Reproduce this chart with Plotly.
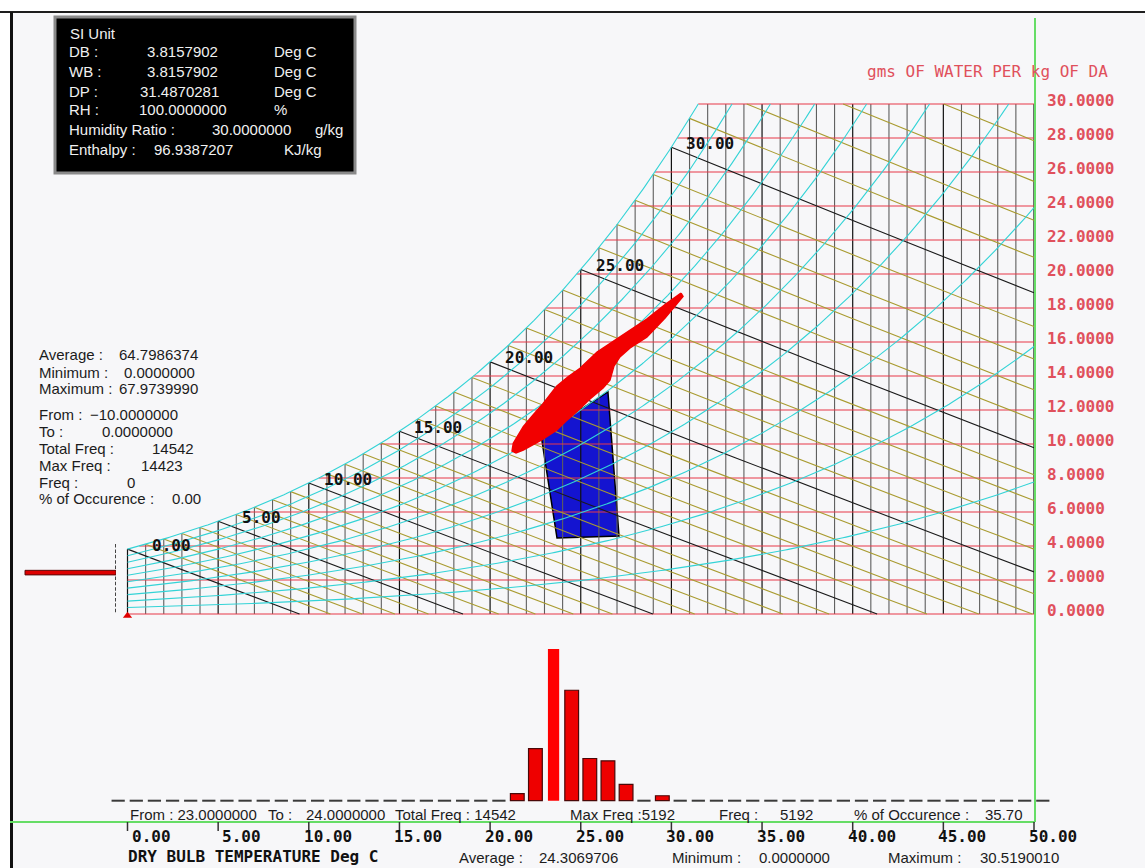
import numpy as np
import plotly.graph_objects as go

# ---------------- chart values ----------------
PRESSURE_KPA = 100.2
DB_LINES = list(range(0, 51))                 # dry-bulb grid, deg C
W_LINES = list(range(0, 31, 2))               # humidity-ratio grid, g/kg
RH_CURVES = [0.1, 0.2, 0.3, 0.4, 0.5, 0.6, 0.7, 0.8, 0.9]
WB_LINES = list(range(0, 35))                 # wet-bulb lines, deg C
WB_LABELS = [0, 5, 10, 15, 20, 25, 30]
DB_TICKS = [0, 5, 10, 15, 20, 25, 30, 35, 40, 45, 50]
W_TICKS = [30, 28, 26, 24, 22, 20, 18, 16, 14, 12, 10, 8, 6, 4, 2, 0]

HIST_BINS = list(range(-1, 51))               # 1 deg C bins (bin start)
HIST_COUNTS = {21: 245, 22: 1785, 23: 5192, 24: 3780, 25: 1445, 26: 1365, 27: 560, 29: 170}
HIST_SELECTED = 23

ENTH_BINS = [-10, 0, 10, 20, 30, 40, 50, 60, 70, 80, 90, 100, 110]
ENTH_COUNTS = {60: 14423}

COMFORT_DB = [22.81, 26.50, 27.11, 23.69]
COMFORT_W = [10.53, 13.06, 4.59, 4.47]

BLOB_DB = [30.53, 29.65, 28.64, 27.72, 26.80, 25.90, 24.96, 24.30, 23.67, 22.93, 22.37, 21.83, 21.28, 21.21,
           21.43, 21.83, 22.85, 23.67, 24.19, 24.78, 25.51, 26.23, 26.61, 26.83, 27.16, 27.72, 28.64, 29.65, 30.64]
BLOB_W = [18.88, 18.20, 17.35, 16.70, 16.05, 15.41, 14.45, 13.95, 13.40, 12.39, 11.71, 11.02, 10.04, 9.59,
          9.47, 9.65, 10.24, 10.82, 11.35, 11.90, 12.65, 13.29, 13.76, 14.59, 15.12, 15.65, 16.29, 17.41, 18.68]

INFO_ROWS = [("DB :", "3.8157902", "Deg C"), ("WB :", "3.8157902", "Deg C"),
             ("DP :", "31.4870281", "Deg C"), ("RH :", "100.0000000", "%"),
             ("Humidity Ratio :", "30.0000000", "g/kg"), ("Enthalpy :", "96.9387207", "KJ/kg")]
LEFT_STATS = [("Average :", "64.7986374"), ("Minimum :", "0.0000000"), ("Maximum :", "67.9739990"),
              ("From :", "\u221210.0000000"), ("To :", "0.0000000"), ("Total Freq :", "14542"),
              ("Max Freq :", "14423"), ("Freq :", "0"), ("% of Occurence :", "0.00")]

# ---------------- geometry (layout only) ----------------
WPX, HPX = 1145, 868
X_PX0, X_PXS = 127.5, 18.13
Y_PX0, Y_PXS = 614.0, 17.0
F_PX0, F_PXS = 800.7, 151.7 / 5192
BG = "#f7f7f9"

def pxx(x):
    return x / WPX

def pxy(y):
    return 1 - y / HPX

# ---------------- psychrometrics ----------------
def es(t):
    return 0.61094 * np.exp(17.625 * t / (t + 243.04))

def es_inv(p):
    a = np.log(p / 0.61094)
    return 243.04 * a / (17.625 - a)

def w_of(t, rh=1.0):
    pw = rh * es(t)
    return 622.0 * pw / (PRESSURE_KPA - pw)

def t_of_w(w, rh=1.0):
    pw = w * PRESSURE_KPA / (622.0 + w)
    return es_inv(pw / rh)

WMAX = max(W_LINES)
TMAX = max(DB_LINES)

def seg_trace(xs, ys, color, width=1, xaxis="x", yaxis="y", dash=None):
    return go.Scatter(x=xs, y=ys, mode="lines", line=dict(color=color, width=width, dash=dash),
                      hoverinfo="skip", showlegend=False, xaxis=xaxis, yaxis=yaxis)

fig = go.Figure()

# comfort polygon (under grid)
fig.add_trace(go.Scatter(x=COMFORT_DB + [COMFORT_DB[0]], y=COMFORT_W + [COMFORT_W[0]],
                         fill="toself", fillcolor="#1414d0", mode="lines",
                         line=dict(color="#000000", width=1.5), hoverinfo="skip", showlegend=False))

# vertical dry-bulb lines
gx, gy, bx, by = [], [], [], []
for t in DB_LINES:
    top = min(w_of(t), WMAX)
    if t % 5 == 0:
        bx += [t, t, None]; by += [0, top, None]
    else:
        gx += [t, t, None]; gy += [0, top, None]
fig.add_trace(seg_trace(gx, gy, "#5e5e5e", width=1.1))
fig.add_trace(seg_trace(bx, by, "#111111", width=1.2))

# horizontal humidity lines
hx, hy = [], []
for w in W_LINES:
    start = 0.0 if w == 0 else max(0.0, float(t_of_w(w)))
    hx += [start, TMAX, None]; hy += [w, w, None]
fig.add_trace(seg_trace(hx, hy, "#e83848", width=1.1))

# wet-bulb lines
ox, oy, kx, ky = [], [], [], []
for twb in WB_LINES:
    ws = w_of(twb) / 1000.0
    A = (2501 - 2.326 * twb) * ws + 1.006 * twb
    B = 2501 - 4.186 * twb
    t_start = twb if ws * 1000 <= WMAX else (A - WMAX / 1000 * B) / (1.006 + 1.86 * WMAX / 1000)
    t_end = min(TMAX, A / 1.006)
    if t_start >= t_end:
        continue
    ts = np.linspace(t_start, t_end, 30)
    ws_line = 1000 * (A - 1.006 * ts) / (B + 1.86 * ts)
    if twb % 5 == 0:
        kx += list(ts) + [None]; ky += list(ws_line) + [None]
    else:
        ox += list(ts) + [None]; oy += list(ws_line) + [None]
fig.add_trace(seg_trace(ox, oy, "#a99b30", width=1.1))
fig.add_trace(seg_trace(kx, ky, "#1a1a1a", width=1.1))

# relative humidity curves + saturation
cx, cy = [], []
for rh in RH_CURVES + [1.0]:
    t_end = min(TMAX, float(t_of_w(WMAX, rh)))
    ts = np.linspace(0, t_end, 300)
    cx += list(ts) + [None]; cy += list(w_of(ts, rh)) + [None]
fig.add_trace(seg_trace(cx, cy, "#33d3d6", width=1.1))

# red data cloud
fig.add_trace(go.Scatter(x=BLOB_DB + [BLOB_DB[0]], y=BLOB_W + [BLOB_W[0]], fill="toself",
                         fillcolor="#f20000", mode="lines", line=dict(color="#f20000", width=1.5),
                         hoverinfo="skip", showlegend=False))

# origin marker
fig.add_trace(go.Scatter(x=[0], y=[-0.1], mode="markers",
                         marker=dict(symbol="triangle-up", size=8, color="#e00000"),
                         hoverinfo="skip", showlegend=False))

# bottom histogram (dry bulb)
dx, dy = [], []
for b in HIST_BINS:
    if HIST_COUNTS.get(b, 0) == 0:
        dx += [b + 0.12, b + 0.85, None]; dy += [0, 0, None]
fig.add_trace(seg_trace(dx, dy, "#3a3a3a", width=2, yaxis="y2"))
nb = [b for b in HIST_BINS if HIST_COUNTS.get(b, 0) > 0 and b != HIST_SELECTED]
fig.add_trace(go.Bar(x=[b + 0.5 for b in nb], y=[HIST_COUNTS[b] for b in nb], width=0.76,
                     marker=dict(color="#ee0000", line=dict(color="#4a0808", width=1.2)),
                     yaxis="y2", hoverinfo="skip", showlegend=False))
fig.add_trace(go.Bar(x=[HIST_SELECTED + 0.5], y=[HIST_COUNTS[HIST_SELECTED]], width=0.62,
                     marker=dict(color="#ff0000", line=dict(width=0)),
                     yaxis="y2", hoverinfo="skip", showlegend=False))

# left histogram (horizontal)
ex, ey = [], []
for b in ENTH_BINS:
    if ENTH_COUNTS.get(b, 0) == 0:
        ex += [0, 0, None]; ey += [b + 1.5, b + 8.0, None]
fig.add_trace(seg_trace(ex, ey, "#444444", width=2, xaxis="x3", yaxis="y3"))
eb = [b for b in ENTH_BINS if ENTH_COUNTS.get(b, 0) > 0]
fig.add_trace(go.Bar(y=[b + 5 for b in eb], x=[ENTH_COUNTS[b] for b in eb], orientation="h", width=8.5,
                     marker=dict(color="#dd0000", line=dict(color="#5a0a0a", width=1)),
                     xaxis="x3", yaxis="y3", hoverinfo="skip", showlegend=False))

# ---------------- shapes (frame) ----------------
shapes = []
shapes.append(dict(type="rect", xref="paper", yref="paper", x0=0, x1=1, y0=pxy(11), y1=1,
                   fillcolor="#ffffff", line=dict(width=0), layer="below"))
shapes.append(dict(type="rect", xref="paper", yref="paper", x0=0, x1=pxx(10), y0=0, y1=1,
                   fillcolor="#ffffff", line=dict(width=0), layer="below"))
shapes.append(dict(type="line", xref="paper", yref="paper", x0=0, x1=1, y0=pxy(12), y1=pxy(12),
                   line=dict(color="#1e1e1e", width=2)))
shapes.append(dict(type="line", xref="paper", yref="paper", x0=pxx(11.5), x1=pxx(11.5), y0=pxy(12), y1=0,
                   line=dict(color="#111111", width=3)))
shapes.append(dict(type="line", xref="paper", yref="paper", x0=pxx(1035), x1=pxx(1035), y0=pxy(18), y1=pxy(822),
                   line=dict(color="#66dd66", width=2)))
shapes.append(dict(type="line", xref="paper", yref="paper", x0=pxx(10), x1=pxx(1035), y0=pxy(822), y1=pxy(822),
                   line=dict(color="#66dd66", width=2)))
for t in DB_TICKS:
    shapes.append(dict(type="line", xref="x", yref="paper", x0=t, x1=t, y0=pxy(822), y1=pxy(831),
                       line=dict(color="#333333", width=1.5)))
# info box
shapes.append(dict(type="rect", xref="paper", yref="paper", x0=pxx(55), x1=pxx(355), y0=pxy(173), y1=pxy(17),
                   fillcolor="#000000", line=dict(color="#8a8a8a", width=3)))

# ---------------- annotations ----------------
ann = []

def txt(x, y, s, size=15, color="#1c1c1c", family="Liberation Sans", xanchor="left",
        xref="paper", xshift=0, yshift=0, yref="paper"):
    ann.append(dict(x=x, y=y, xref=xref, yref=yref, text=s, showarrow=False, xanchor=xanchor,
                    yanchor="middle", xshift=xshift, yshift=yshift,
                    font=dict(family=family, size=size, color=color)))

MONO = "DejaVu Sans Mono"
RED_TXT = "#e0505c"

# info box
txt(pxx(68), pxy(33), "SI Unit", color="#f0f0f0")
info_y = [52, 72, 91, 110, 130, 149]
for (lab, val, unit), yy in zip(INFO_ROWS, info_y):
    txt(pxx(67), pxy(yy), lab, color="#f0f0f0")
vx = [145, 145, 138, 137, 210, 152]
ux = [272, 272, 272, 272, 313, 282]
for (lab, val, unit), yy, x1, x2 in zip(INFO_ROWS, info_y, vx, ux):
    txt(pxx(x1), pxy(yy), val, color="#f0f0f0")
    txt(pxx(x2), pxy(yy), unit, color="#f0f0f0")

# left stats
ls_y = [355, 372, 389, 414, 431, 448, 466, 483, 498]
ls_x = [117, 122, 117, 88, 100, 150, 139, 125, 170]
for (lab, val), yy, xx in zip(LEFT_STATS, ls_y, ls_x):
    txt(pxx(37), pxy(yy), lab)
    txt(pxx(xx), pxy(yy), val)

# right axis title and labels
txt(pxx(865), pxy(72), "gms OF WATER PER kg OF DA", size=16, color=RED_TXT, family=MONO)
for w in W_TICKS:
    txt(pxx(1045), w, "<b>%.4f</b>" % w, size=16, color=RED_TXT, family=MONO, yref="y", yshift=4)

# wet-bulb labels on the saturation curve
for twb in WB_LABELS:
    txt(twb, float(w_of(twb)), "<b>%.2f</b>" % twb, size=16, color="#111111", family=MONO,
        xref="x", yref="y", xanchor="right", xshift=65, yshift=4)

# bottom tick labels
for t in DB_TICKS:
    txt(t, pxy(836), "<b>%.2f</b>" % t, size=16, color="#111111", family=MONO, xref="x",
        xanchor="right", xshift=45)

txt(pxx(126), pxy(856), "<b>DRY BULB TEMPERATURE Deg C</b>", size=16, color="#111111", family=MONO)

# bottom stats rows
txt(pxx(128), pxy(814), "From : 23.0000000")
txt(pxx(266), pxy(814), "To :")
txt(pxx(304), pxy(814), "24.0000000")
txt(pxx(393), pxy(814), "Total Freq : 14542")
txt(pxx(568), pxy(814), "Max Freq :5192")
txt(pxx(717), pxy(814), "Freq :")
txt(pxx(778), pxy(814), "5192")
txt(pxx(852), pxy(814), "% of Occurence :")
txt(pxx(983), pxy(814), "35.70")

txt(pxx(457), pxy(857), "Average :")
txt(pxx(537), pxy(857), "24.3069706")
txt(pxx(670), pxy(857), "Minimum :")
txt(pxx(757), pxy(857), "0.0000000")
txt(pxx(886), pxy(857), "Maximum :")
txt(pxx(978), pxy(857), "30.5190010")

# ---------------- layout ----------------
x_rng = [-X_PX0 / X_PXS, (WPX - X_PX0) / X_PXS]
y_rng = [-(HPX - Y_PX0) / Y_PXS, Y_PX0 / Y_PXS]
f_rng = [-(HPX - F_PX0) / F_PXS, F_PX0 / F_PXS]
e_scale = 91.0 / ENTH_COUNTS[60]

fig.update_layout(
    width=WPX, height=HPX, margin=dict(l=0, r=0, t=0, b=0),
    paper_bgcolor=BG, plot_bgcolor="rgba(0,0,0,0)", showlegend=False, barmode="overlay",
    xaxis=dict(range=x_rng, domain=[0, 1], visible=False, fixedrange=True),
    yaxis=dict(range=y_rng, domain=[0, 1], visible=False, fixedrange=True),
    yaxis2=dict(range=f_rng, overlaying="y", visible=False, fixedrange=True),
    xaxis3=dict(range=[116 / e_scale, 0], domain=[0, 116 / WPX], anchor="y3", visible=False, fixedrange=True),
    yaxis3=dict(range=[-10, 120], domain=[pxy(613), pxy(543)], anchor="x3", visible=False, fixedrange=True),
    shapes=shapes, annotations=ann,
)

fig.write_html("out.html")
